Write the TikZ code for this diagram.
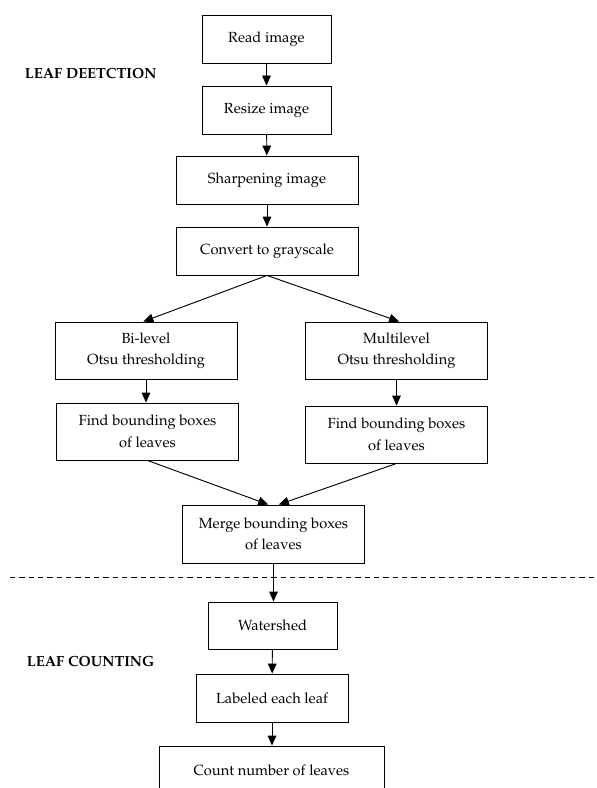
\documentclass[tikz,border=0pt]{standalone}
\usepackage[T1]{fontenc}
\usepackage{mathpazo}
\usetikzlibrary{arrows.meta}

\begin{document}
\begin{tikzpicture}[x=0.75pt, y=-0.75pt, line width=0.7pt,
  font=\fontsize{11}{16}\selectfont,
  box/.style={draw, align=center, inner sep=2pt, minimum height=36pt},
  flow/.style={-{Triangle[length=7.5pt,width=6.5pt]}}]

\clip (0,0) rectangle (596,788);

\node[box, minimum width=96.75pt]  (read) at (266.5,39)     {Read image};
\node[box, minimum width=96.75pt]  (resize) at (266.5,110)  {Resize image};
\node[box, minimum width=136.5pt]  (sharpen) at (267,180)   {Sharpening image};
\node[box, minimum width=136.5pt]  (gray) at (267,251)      {Convert to grayscale};
\node[box, minimum width=136.5pt, minimum height=42.75pt] (bilevel) at (146,350.5)   {Bi-level\\Otsu thresholding};
\node[box, minimum width=136pt, minimum height=42.75pt]   (multi) at (396.5,350.5)   {Multilevel\\Otsu thresholding};
\node[box, minimum width=136pt, minimum height=42.75pt]   (bbox_b) at (147.5,431.5)  {Find bounding boxes\\of leaves};
\node[box, minimum width=136pt, minimum height=42.75pt]   (bbox_m) at (396.5,434.5)  {Find bounding boxes\\of leaves};
\node[box, minimum width=136pt, minimum height=43.5pt]    (merge) at (273.5,534)     {Merge bounding boxes\\of leaves};
\node[box, minimum width=96.75pt, minimum height=35.25pt] (water) at (272.5,625.5)   {Watershed};
\node[box, minimum width=114pt]    (label) at (272,698)     {Labeled each leaf};
\node[box, minimum width=168.75pt] (count) at (271.5,770)   {Count number of leaves};

\node[anchor=west, font=\bfseries\fontsize{11}{13}\selectfont] (detect) at (20,73)  {LEAF DEETCTION};
\node[anchor=west, font=\bfseries\fontsize{11}{13}\selectfont] (counting) at (22,661) {LEAF COUNTING};

\draw[dashed, line width=0.6pt, dash pattern=on 4pt off 3pt] (10,577) -- (596,577);

\draw[flow] (read) -- (resize);
\draw[flow] (resize) -- (sharpen);
\draw[flow] (sharpen) -- (gray);
\draw[flow] (gray.south) -- ([xshift=-2pt]bilevel.north);
\draw[flow] (gray.south) -- ([xshift=2pt]multi.north);
\draw[flow] (bilevel.south) -- (bilevel.south |- bbox_b.north);
\draw[flow] (multi.south) -- (multi.south |- bbox_m.north);
\draw[flow] (bbox_b.south) -- ([xshift=-4pt]merge.north);
\draw[flow] (bbox_m.south) -- ([xshift=4pt]merge.north);
\draw[flow] (merge.south) -- (merge.south |- water.north);
\draw[flow] (water) -- (label);
\draw[flow] (label) -- (label.south |- count.north);

\end{tikzpicture}
\end{document}
